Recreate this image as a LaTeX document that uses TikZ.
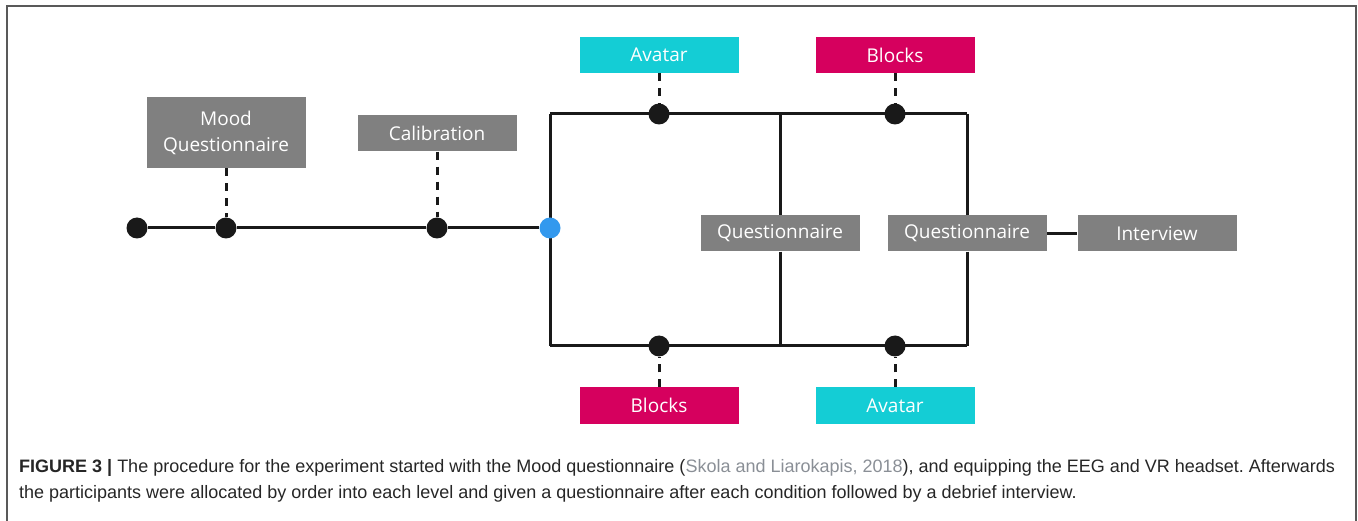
\documentclass[tikz,border=0pt]{standalone}
\usepackage{fontspec}
\setmainfont{Liberation Sans}
\newfontfamily\boxfont{Open Sans}
\usetikzlibrary{backgrounds}
\frenchspacing

\tikzset{
  dot/.style={circle, fill=black!90, minimum size=21pt, inner sep=0pt},
  stage/.style={rectangle, fill=stagegray, text=white, minimum width=159pt,
    minimum height=36pt, inner sep=0pt, font=\boxfont\fontsize{19}{26}\selectfont},
  wire/.style={line width=3pt, black!90},
  tick/.style={line width=3pt, black!90, dash pattern=on 8pt off 7pt},
}

\begin{document}
\begin{tikzpicture}[x=1pt, y=-1pt]
				\definecolor{stagegray}{HTML}{808080}
				\definecolor{avatarcol}{HTML}{14CDD5}
				\definecolor{blockscol}{HTML}{D6005E}
				\definecolor{splitcol}{HTML}{3399EE}
				\definecolor{citecol}{HTML}{8A8F96}
				\useasboundingbox (0,0) rectangle (1358,521);
				\draw[line width=1.4pt, black!65] (7,530) -- (7,6) -- (1356,6) -- (1356,530);
				%% Dots ------
				\node[dot] (start) at (137,228) {};
				\node[dot] (mood) at (226,228) {};
				\node[dot] (calib) at (437,228) {};
				\node[dot, fill=splitcol] (split) at (550,228) {};
				\node[dot] (avtop) at (659,114) {};
				\node[dot] (blktop) at (895,114) {};
				\node[dot] (blkbot) at (659,346) {};
				\node[dot] (avbot) at (895,346) {};
				%% Corners ------
				\coordinate (tl) at (550,114);
				\coordinate (bl) at (550,346);
				\coordinate (mt) at (780,114);
				\coordinate (mb) at (780,346);
				\coordinate (tr) at (967,114);
				\coordinate (br) at (967,346);
				%% Stages ------
				\node[stage, minimum height=71pt, align=center] (moodq) at (226,132.5) {Mood\\Questionnaire};
				\node[stage] (calibq) at (437,133.5) {Calibration};
				\node[stage, fill=avatarcol] (avatarA) at (659,55) {Avatar};
				\node[stage, fill=blockscol] (blocksA) at (895,55) {Blocks};
				\node[stage, fill=blockscol] (blocksB) at (659,405.5) {Blocks};
				\node[stage, fill=avatarcol] (avatarB) at (895,405.5) {Avatar};
				\node[stage] (quest1) at (780,233.5) {Questionnaire};
				\node[stage] (quest2) at (967,233.5) {Questionnaire};
				\node[stage] (interview) at (1157,233.5) {Interview};
				%% Edges ---------
				\begin{pgfonlayer}{background}
				\draw[wire] (start) -- (mood) -- (calib) -- (split);
				\draw[wire] (tl) -- (bl);
				\draw[wire] (tl) -- (tr);
				\draw[wire] (bl) -- (br);
				\draw[wire] (mt) -- (quest1.north);
				\draw[wire] (quest1.south) -- (mb);
				\draw[wire] (tr) -- (quest2.north);
				\draw[wire] (quest2.south) -- (br);
				\draw[wire] (quest2.east) -- (interview.west);
				\draw[tick] (moodq.south) -- (mood);
				\draw[tick] (calibq.south) -- (calib);
				\draw[tick] (avatarA.south) -- (avtop);
				\draw[tick] (blocksA.south) -- (blktop);
				\draw[tick] (blocksB.north) -- (blkbot);
				\draw[tick] (avatarB.north) -- (avbot);
				\end{pgfonlayer}
				%% Caption ---------
				\node[anchor=base west, inner sep=0pt, text=black!85, font=\fontsize{18}{21}\selectfont] (cap1) at (19,472)
				  {\textbf{FIGURE 3 |} The procedure for the experiment started with the Mood questionnaire (\textcolor{citecol}{Skola and Liarokapis, 2018}), and equipping the EEG and VR headset. Afterwards};
				\node[anchor=base west, inner sep=0pt, text=black!85, font=\fontsize{18}{21}\selectfont] (cap2) at (19,498)
				  {the participants were allocated by order into each level and given a questionnaire after each condition followed by a debrief interview.};
			\end{tikzpicture}
\end{document}
